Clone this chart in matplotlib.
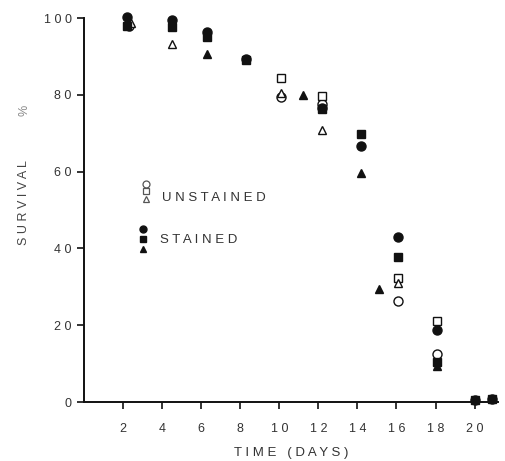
import matplotlib
matplotlib.use("Agg")
import matplotlib.pyplot as plt

plt.rcParams['font.family'] = ['Liberation Sans', 'DejaVu Sans']

# Stained (filled markers)
st_circle_days = [2.2, 4.5, 6.3, 8.3, 12.2, 14.2, 16.1, 18.1, 20.0, 20.9]
st_circle_vals = [100.3, 99.5, 96.4, 89.3, 76.5, 66.7, 43.0, 18.7, 0.5, 0.7]
st_square_days = [2.2, 4.5, 6.3, 8.3, 12.2, 14.2, 16.1, 18.1, 20.0, 20.9]
st_square_vals = [97.8, 97.7, 95.0, 89.0, 76.2, 69.8, 37.8, 10.5, 0.4, 0.8]
st_tri_days = [6.3, 11.2, 14.2, 15.1, 18.1]
st_tri_vals = [90.6, 80.0, 59.6, 29.4, 9.5]

# Unstained (open markers)
un_circle_days = [2.3, 10.1, 12.2, 16.1, 18.1]
un_circle_vals = [98.0, 79.4, 77.6, 26.3, 12.5]
un_square_days = [10.1, 12.2, 16.1, 18.1]
un_square_vals = [84.5, 79.7, 32.3, 21.0]
un_tri_days = [2.4, 4.5, 10.1, 12.2, 16.1]
un_tri_vals = [98.8, 93.2, 80.5, 70.8, 31.0]

x_ticks = [2, 4, 6, 8, 10, 12, 14, 16, 18, 20]
y_ticks = [0, 20, 40, 60, 80, 100]

def spaced(s):
    return " ".join(list(s))

fig = plt.figure(figsize=(5.06, 4.61), dpi=100)
ax = fig.add_axes([84/506, 1-402/461, 414/506, 384/461])

ink = '#111111'
txt = '#333333'

def pts(d, v, marker, filled, ms):
    ax.plot(d, v, linestyle='none', marker=marker, markersize=ms,
            markerfacecolor=ink if filled else 'white',
            markeredgecolor=ink, markeredgewidth=1.0, clip_on=False, zorder=3)

pts(un_circle_days, un_circle_vals, 'o', False, 6.5)
pts(un_square_days, un_square_vals, 's', False, 5.5)
pts(un_tri_days, un_tri_vals, '^', False, 5.5)
pts(st_circle_days, st_circle_vals, 'o', True, 6.5)
pts(st_square_days, st_square_vals, 's', True, 5.5)
pts(st_tri_days, st_tri_vals, '^', True, 5.5)

ax.set_xlim(0, 21.2)
ax.set_ylim(0, 100)
ax.set_xticks(x_ticks)
ax.set_xticklabels([spaced(str(t)) for t in x_ticks], fontsize=9, color=txt)
ax.set_yticks(y_ticks)
ax.set_yticklabels([spaced(str(t)) for t in y_ticks], fontsize=9, color=txt)
ax.tick_params(axis='both', direction='out', length=5, width=1.2, color=ink)
ax.tick_params(axis='x', pad=10)
ax.tick_params(axis='y', pad=4)
for s in ['top', 'right']:
    ax.spines[s].set_visible(False)
for s in ['left', 'bottom']:
    ax.spines[s].set_linewidth(1.4)
    ax.spines[s].set_color(ink)

ax.set_xlabel(spaced("TIME") + "   " + spaced("(DAYS)"), fontsize=9.5, color=txt, labelpad=9)
fig.text(24/506, 1-203/461, spaced("SURVIVAL"), rotation=90, fontsize=9,
         color='#444444', ha='center', va='center')
fig.text(25/506, 1-110/461, "%", rotation=90, fontsize=9, color='#888888',
         ha='center', va='center')

# Legend (drawn manually, markers stacked vertically)
tr = ax.transAxes
lx_u, lx_s = 0.150, 0.1425
ax.plot([lx_u], [0.568], 'o', ms=5, mfc='white', mec='#555555', mew=0.9, transform=tr, clip_on=False)
ax.plot([lx_u], [0.549], 's', ms=4.5, mfc='white', mec='#555555', mew=0.9, transform=tr, clip_on=False)
ax.plot([lx_u], [0.529], '^', ms=5, mfc='white', mec='#555555', mew=0.9, transform=tr, clip_on=False)
ax.plot([lx_s], [0.451], 'o', ms=5, mfc=ink, mec=ink, transform=tr, clip_on=False)
ax.plot([lx_s], [0.424], 's', ms=4.5, mfc=ink, mec=ink, transform=tr, clip_on=False)
ax.plot([lx_s], [0.398], '^', ms=5, mfc=ink, mec=ink, transform=tr, clip_on=False)
ax.text(0.188, 0.531, spaced("UNSTAINED"), transform=tr, fontsize=9.5, color='#333333',
        ha='left', va='center')
ax.text(0.184, 0.422, spaced("STAINED"), transform=tr, fontsize=9.5, color='#333333',
        ha='left', va='center')

fig.savefig("out.png", dpi=100)
